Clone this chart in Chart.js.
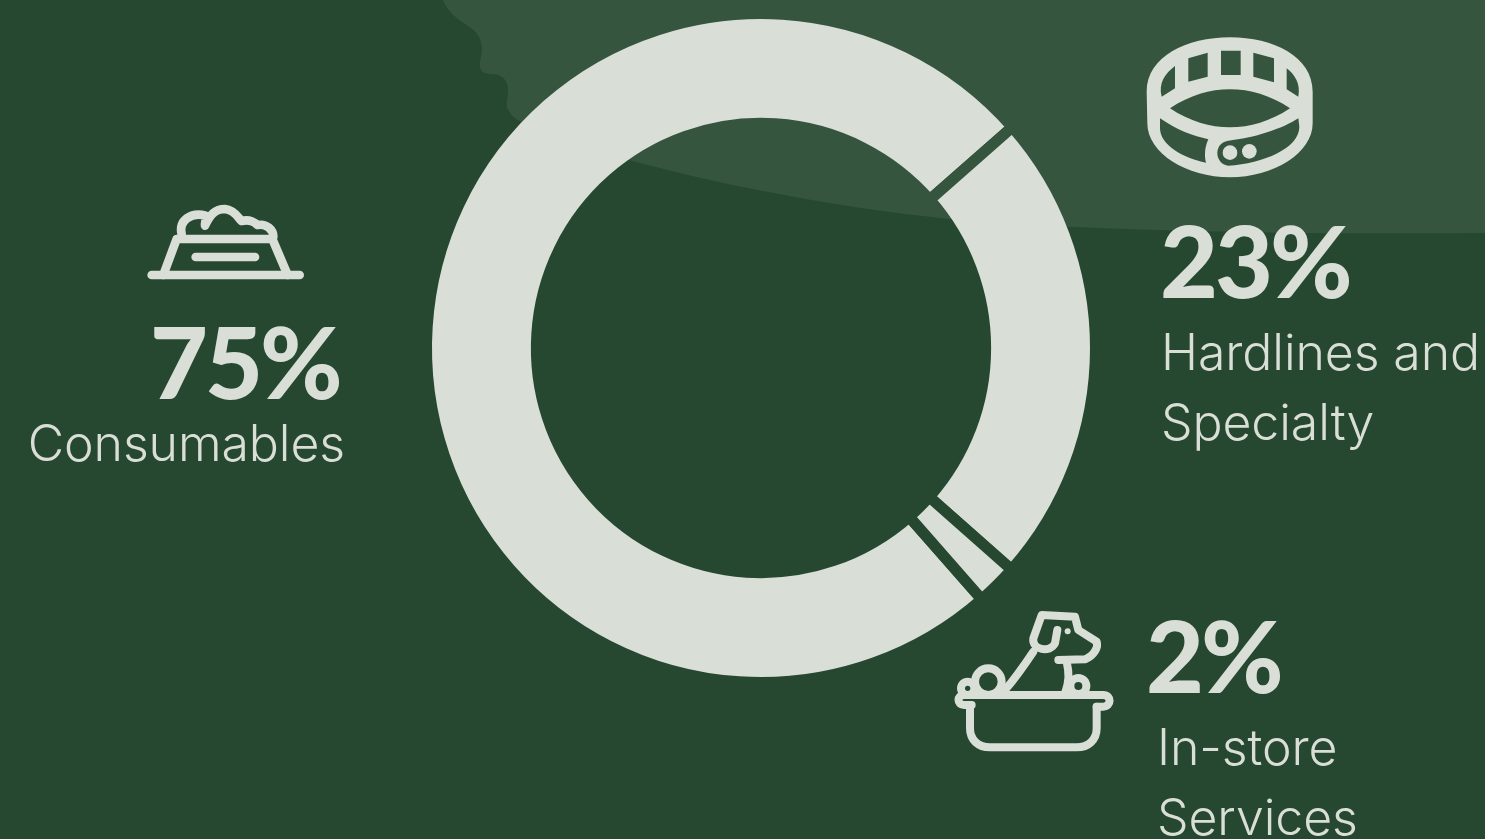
<!DOCTYPE html>
<html>
<head>
<meta charset="utf-8">
<title>Sales mix</title>
<script src="https://cdn.jsdelivr.net/npm/chart.js@4"></script>
<style>
    html, body { margin: 0; padding: 0; background: #264830; }
    #stage { position: relative; width: 1485px; height: 839px; overflow: hidden; font-family: Inter, sans-serif; color: #d9ded7; }
    #stage svg, #stage canvas { position: absolute; display: block; }
    .pct { position: absolute; font-family: Lato, sans-serif; font-weight: 900; font-size: 100px; line-height: 98px; letter-spacing: -3px; white-space: nowrap; }
    .cat { position: absolute; font-weight: 350; font-size: 50px; line-height: 70px; letter-spacing: -0.1px; white-space: pre; }
</style>
</head>
<body>
<div id="stage">
    <!-- lighter patch behind the top right of the ring -->
    <svg style="left:0;top:0" width="1485" height="839" viewBox="0 0 1485 839">
        <path id="patch" fill="#36553f" d="M443,0 C447,11 456,18 465,24 C475,30 482,36 482,50 C481,58 479,63 480,67 C481,73 486,74 494,74 C503,75 508,81 508,90 C508,98 506,102 507,107 C510,116 517,120 527,125 C600,160 800,205 950,219 C1100,232 1300,234 1485,233 L1485,0 Z"/>
    </svg>
    <canvas id="ringChart" width="1485" height="839" style="left:0;top:0"></canvas>

    <!-- bowl -->
    <svg style="left:135px;top:195px" width="180" height="95" viewBox="0 0 540 285" fill="none" stroke="#d9ded7" stroke-width="26" stroke-linecap="round" stroke-linejoin="round">
        <path d="M50,240 H494"/>
        <path d="M85,240 L125,132 H412 L458,240"/>
        <path d="M182,186 H360"/>
        <path d="M140,118 C130,75 170,50 212,62 C215,75 208,85 210,92 C225,60 240,42 270,42 C300,45 310,70 320,78 C345,72 358,82 368,90 C395,85 415,105 415,125"/>
    </svg>

    <!-- collar -->
    <svg style="left:1130px;top:20px" width="200" height="170" viewBox="0 0 600 510">
        <path fill="#d9ded7" fill-rule="evenodd" d="M50,215 C50,110 170,52 300,52 C430,52 548,110 548,215 L548,310 C548,400 430,472 300,472 C170,472 52,400 52,310 Z
            M273,92 L332,92 L332,165 L273,165 Z
            M175,115 L233,98 L233,170 L175,185 Z
            M370,98 L432,115 L432,187 L370,170 Z
            M135,138 L135,205 L95,230 C85,190 105,160 135,138 Z
            M470,145 C495,165 512,190 505,230 L470,208 Z
            M120,265 C180,225 240,208 300,208 C360,208 420,225 480,265 C420,305 360,322 300,322 C240,322 180,305 120,265 Z
            M90,295 C140,330 190,348 235,358 C225,380 222,405 228,428 C160,415 90,375 90,325 Z
            M505,295 C460,325 370,355 295,362 C270,365 262,385 262,400 C262,420 278,437 295,437 C400,430 508,385 508,320 Z"/>
        <circle cx="300" cy="398" r="22" fill="#d9ded7"/>
        <circle cx="358" cy="394" r="22" fill="#d9ded7"/>
    </svg>

    <!-- dog in a tub -->
    <svg style="left:940px;top:600px" width="190" height="165" viewBox="0 0 570 495" fill="none" stroke="#d9ded7" stroke-width="24" stroke-linecap="round" stroke-linejoin="round">
        <circle cx="83" cy="265" r="20"/>
        <circle cx="415" cy="258" r="24"/>
        <path d="M352,90 L345,130 C330,160 275,150 280,115 L305,45 L405,50 L415,90 L470,125 C475,140 465,165 435,178 L355,180"/>
        <path d="M280,155 C250,200 225,235 195,270"/>
        <path d="M380,185 C388,220 388,245 375,280"/>
        <circle cx="145" cy="245" r="40"/>
        <path d="M95,315 H72 C50,315 50,285 72,285 H490 C515,285 515,320 490,320 H470"/>
        <path d="M90,315 V385 C90,420 115,442 150,442 H410 C445,442 470,420 470,385 V320"/>
        <circle cx="383" cy="94" r="9" fill="#d9ded7" stroke="none"/>
    </svg>
</div>

<script>
const categories = ['Consumables', 'Hardlines and\nSpecialty', 'In-store\nServices'];
const shares = [75, 23, 2];

const ringColor = '#d9ded7';
const pageColor = '#264830';
const gapWidth = 11;

const labelSpots = [
    { x: 150, pctTop: 311, catTop: 408, catRight: 1140 },
    { x: 1160, pctTop: 210, catTop: 317, catX: 1161 },
    { x: 1146, pctTop: 605, catTop: 712, catX: 1157 }
];

const stage = document.getElementById('stage');
shares.forEach((share, i) => {
    const spot = labelSpots[i];
    const pct = document.createElement('div');
    pct.className = 'pct';
    pct.textContent = share + '%';
    pct.style.left = spot.x + 'px';
    pct.style.top = spot.pctTop + 'px';
    stage.appendChild(pct);

    const cat = document.createElement('div');
    cat.className = 'cat';
    cat.textContent = categories[i];
    cat.style.top = spot.catTop + 'px';
    if (spot.catRight !== undefined) {
        cat.style.right = spot.catRight + 'px';
    } else {
        cat.style.left = spot.catX + 'px';
    }
    stage.appendChild(cat);
});

// the slice borders have to show whatever lies behind the ring, so they are
// stroked with a pattern holding the page colour and the lighter patch
function backdropPattern() {
    const tile = document.createElement('canvas');
    tile.width = 1485;
    tile.height = 839;
    const tileCtx = tile.getContext('2d');
    tileCtx.fillStyle = pageColor;
    tileCtx.fillRect(0, 0, tile.width, tile.height);
    const patch = document.getElementById('patch');
    tileCtx.fillStyle = patch.getAttribute('fill');
    tileCtx.fill(new Path2D(patch.getAttribute('d')));
    return tileCtx.createPattern(tile, 'no-repeat');
}

new Chart(document.getElementById('ringChart'), {
    type: 'doughnut',
    data: {
        labels: categories,
        datasets: [{
            data: shares,
            backgroundColor: ringColor,
            borderColor: backdropPattern(),
            borderWidth: gapWidth
        }]
    },
    options: {
        responsive: false,
        animation: false,
        rotation: 138.7,
        radius: 329 + gapWidth / 2,
        cutout: 235.5 - gapWidth / 2,
        layout: { padding: { left: 100, right: 63, top: 0, bottom: 143 } },
        plugins: { legend: { display: false }, tooltip: { enabled: false } }
    }
});
</script>
</body>
</html>
